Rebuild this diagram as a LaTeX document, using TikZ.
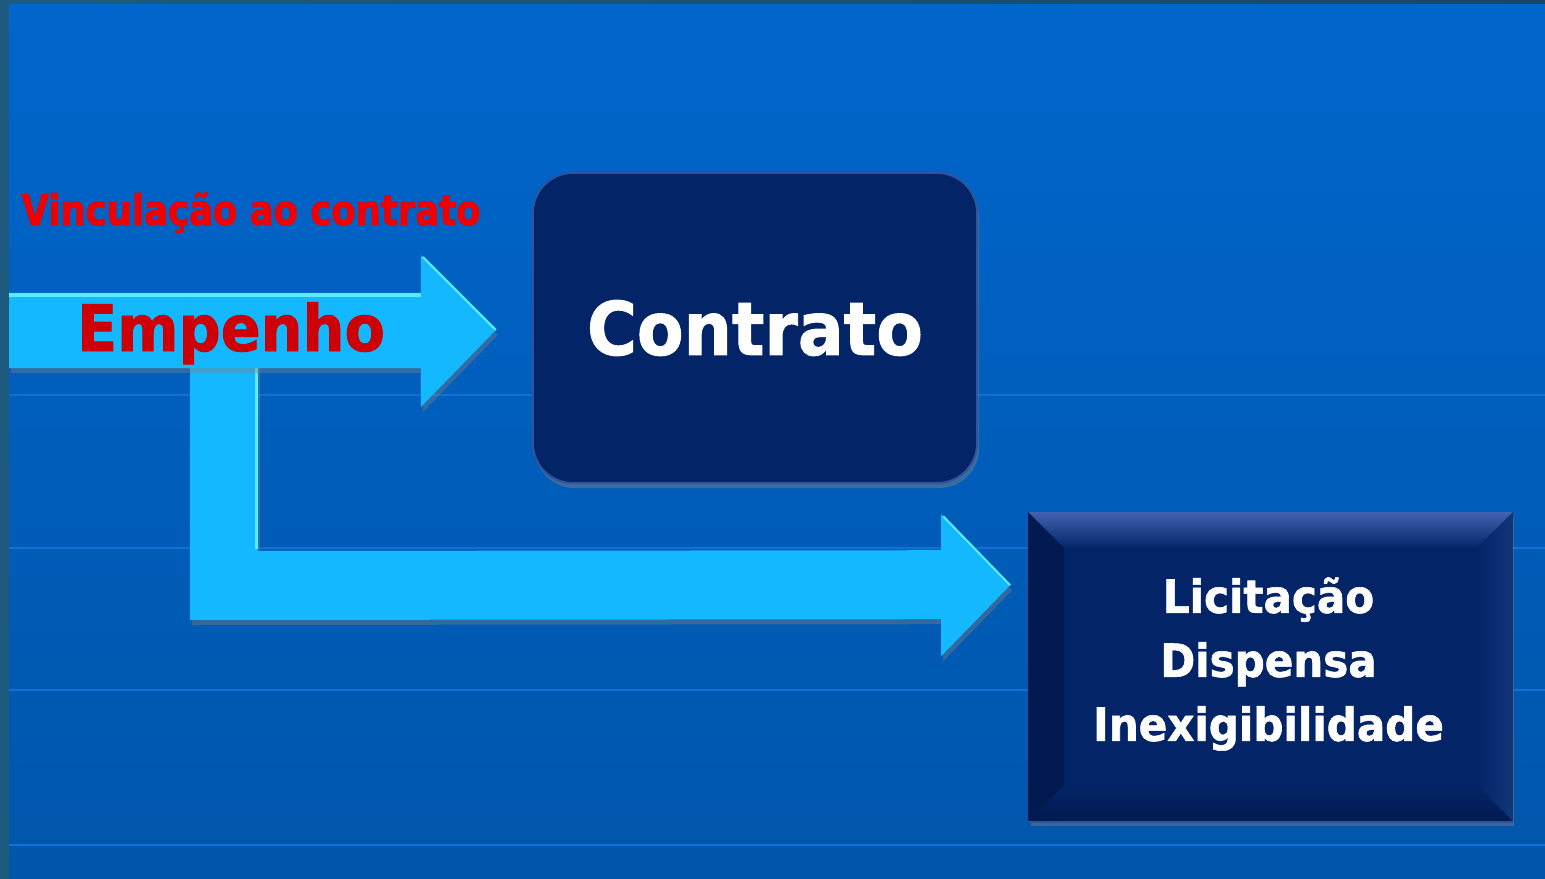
\documentclass[tikz,border=0pt]{standalone}
\usepackage{fontspec}
\newfontfamily\slidefont[FakeStretch=0.92, BoldFeatures={FakeBold=1.3}]{DejaVu Sans}
\newfontfamily\notefont[FakeStretch=0.84, BoldFeatures={FakeBold=1.3}]{DejaVu Sans}
\usetikzlibrary{calc,shadows}

\definecolor{slideblue}{RGB}{0,102,204}
\definecolor{slidedeep}{RGB}{0,86,170}
\definecolor{slideedge}{RGB}{30,90,126}
\definecolor{gridblue}{RGB}{16,114,216}
\definecolor{arrowcyan}{RGB}{20,184,255}
\definecolor{arrowlight}{RGB}{92,236,255}
\definecolor{navybox}{RGB}{3,36,102}
\definecolor{navyrim}{RGB}{48,84,156}
\definecolor{bevellight}{RGB}{66,98,176}
\definecolor{beveldark}{RGB}{1,26,80}
\definecolor{labelred}{RGB}{240,0,0}
\definecolor{emphred}{RGB}{204,0,6}

\tikzset{
  boxtext/.style={text=white},
  fatarrow/.style={fill=arrowcyan, drop shadow={shadow xshift=0.02cm, shadow yshift=-0.05cm, opacity=.4}},
  boxshadow/.style={drop shadow={shadow xshift=0.02cm, shadow yshift=-0.05cm, opacity=.45}},
  redtext/.style={inner sep=0pt, anchor=base},
}

\begin{document}
\begin{tikzpicture}[x=0.01cm, y=-0.01cm]

% Slide background
\useasboundingbox (0,0) rectangle (1545,879);
\shade[top color=slideblue, bottom color=slidedeep] (0,0) rectangle (1545,879);
\foreach \gy in {395,548,690,845}
  \draw[gridblue, line width=0.02cm] (9,\gy) -- (1545,\gy);
\fill[slideedge] (0,0) rectangle (9,879);
\fill[left color=slideedge, right color=slideedge!80!black] (9,0) rectangle (1545,4);

% Boxes
\node[rounded corners=0.4cm, fill=navybox, draw=navyrim, line width=0.02cm,
      minimum width=4.44cm, minimum height=3.10cm, boxshadow, boxtext,
      font=\slidefont\bfseries\fontsize{21pt}{25pt}\selectfont]
  (contrato) at (755,328) {Contrato};

\node[fill=navybox, minimum width=4.83cm, minimum height=3.08cm, boxshadow]
  (licitbox) at (1270.5,667) {};
\shade[top color=bevellight, bottom color=navybox]
  (licitbox.north west) -- (licitbox.north east)
  -- ($(licitbox.north east)+(-36,36)$) -- ($(licitbox.north west)+(36,36)$) -- cycle;
\fill[beveldark]
  (licitbox.north west) -- ($(licitbox.north west)+(36,36)$)
  -- ($(licitbox.south west)+(36,-36)$) -- (licitbox.south west) -- cycle;
\shade[left color=navybox, right color=navyrim!35!navybox]
  (licitbox.north east) -- ($(licitbox.north east)+(-36,36)$)
  -- ($(licitbox.south east)+(-36,-36)$) -- (licitbox.south east) -- cycle;
\shade[top color=navybox, bottom color=beveldark]
  (licitbox.south west) -- ($(licitbox.south west)+(36,-36)$)
  -- ($(licitbox.south east)+(-36,-36)$) -- (licitbox.south east) -- cycle;
\draw[navyrim, line width=0.02cm] (licitbox.south west) -- (licitbox.south east);
\node[boxtext, align=center, font=\slidefont\bfseries\fontsize{13pt}{18.2pt}\selectfont]
  (licittext) at ($(licitbox.center)+(-2,-3)$) {Licitação\\Dispensa\\Inexigibilidade};

% Arrows
\coordinate (tip1) at ($(contrato.west)+(-36,2)$);
\coordinate (tip2) at ($(licitbox.north west)+(-18,73)$);

\fill[fatarrow] (190,330) -- (258,330) -- (258,551)
  -- ($(tip2)+(-69,-35)$) -- ($(tip2)+(-69,-71)$) -- (tip2)
  -- ($(tip2)+(-69,71)$) -- ($(tip2)+(-69,34)$) -- (190,620) -- cycle;
\draw[arrowlight, line width=0.03cm] (256,368) -- (256,549);
\draw[arrowlight, line width=0.02cm] ($(tip2)+(-67,-69)$) -- (tip2);

\fill[fatarrow] (9,293) -- ($(tip1)+(-75,-37)$) -- ($(tip1)+(-75,-75)$) -- (tip1)
  -- ($(tip1)+(-75,77)$) -- ($(tip1)+(-75,38)$) -- (9,368) -- cycle;
\draw[arrowlight, line width=0.03cm] (9,295) -- ($(tip1)+(-75,-35)$);
\draw[arrowlight, line width=0.02cm] ($(tip1)+(-73,-73)$) -- (tip1);

% Labels
\node[redtext, text=labelred, font=\notefont\bfseries\fontsize{12pt}{14pt}\selectfont]
  (vinculo) at (251,225) {Vinculação ao contrato};
\node[redtext, text=emphred, font=\slidefont\bfseries\fontsize{18.2pt}{22pt}\selectfont]
  (empenho) at (231,351) {Empenho};

\end{tikzpicture}
\end{document}
